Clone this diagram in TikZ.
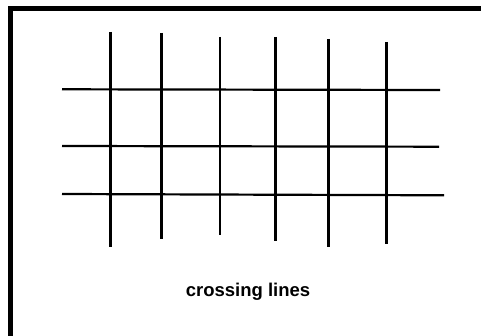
\documentclass[tikz,border=0pt]{standalone}
\usepackage{fontspec}
\setmainfont{Liberation Sans}
\begin{document}
\begin{tikzpicture}[x=1pt,y=-1pt,
  frame/.style={line width=5pt},
  gridline/.style={line width=2.2pt},
  caption/.style={font=\bfseries\fontsize{18.5}{20}\selectfont, inner sep=0pt}]
\useasboundingbox (0,0) rectangle (481,336);
\fill[white] (0,0) rectangle (481,336);
% frame (left and top only visible)
\coordinate (fb) at (10.5,336);
\coordinate (fc) at (10.5,9);
\coordinate (fr) at (481,9);
\draw[frame] (fb) -- (fc) -- (fr);
% vertical lines
\foreach \n/\x/\t/\b in {1/110.5/32/247, 2/161.5/33/239, 3/220/37/235, 4/275.5/37/241, 5/328.5/39/247, 6/386.5/42/244}{
  \coordinate (vt\n) at (\x,\t);
  \coordinate (vb\n) at (\x,\b);
  \draw[gridline] (vt\n) -- (vb\n);
}
% horizontal lines
\foreach \n/\y/\r/\yr in {1/89.3/440/90, 2/146/439/146.7, 3/194/444/195.3}{
  \coordinate (hl\n) at (62,\y);
  \coordinate (hr\n) at (\r,\yr);
  \draw[gridline] (hl\n) -- (hr\n);
}
\node[caption, anchor=base] (cap) at (248,296) {crossing lines};
\end{tikzpicture}
\end{document}
